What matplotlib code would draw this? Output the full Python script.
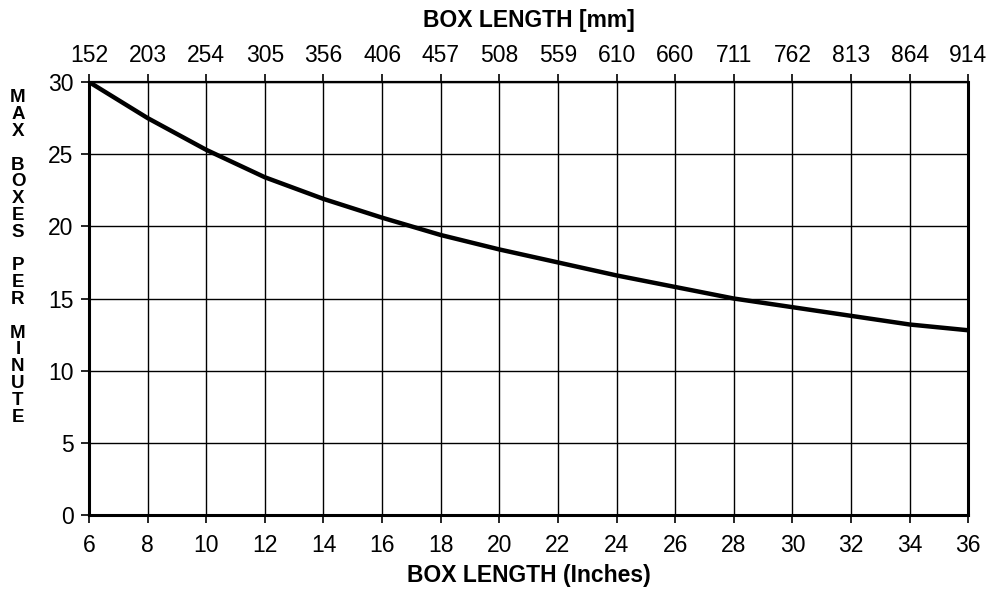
import numpy as np
import matplotlib
matplotlib.use("Agg")
import matplotlib.pyplot as plt

plt.rcParams['font.family'] = ['Liberation Sans', 'DejaVu Sans']

# Box length (inches) and max boxes per minute
length_in = [6, 8, 10, 12, 14, 16, 18, 20, 22, 24, 26, 28, 30, 32, 34, 36]
boxes_per_min = [30.0, 27.5, 25.3, 23.4, 21.9, 20.6, 19.4, 18.4, 17.5,
                 16.6, 15.8, 15.0, 14.4, 13.8, 13.2, 12.8]

# Axis ticks
x_ticks = list(range(6, 37, 2))
y_ticks = [0, 5, 10, 15, 20, 25, 30]
mm_labels = ["152", "203", "254", "305", "356", "406", "457", "508",
             "559", "610", "660", "711", "762", "813", "864", "914"]

fig = plt.figure(figsize=(9.89, 5.92), dpi=100)
ax = fig.add_axes([0.090, 0.130, 0.889, 0.7315])

ax.plot(length_in, boxes_per_min, color="k", linewidth=3.2,
        solid_capstyle="butt", zorder=3)

ax.set_xlim(6, 36)
ax.set_ylim(0, 30)
ax.set_xticks(x_ticks)
ax.set_yticks(y_ticks)
ax.grid(True, color="k", linewidth=1.0)
ax.tick_params(axis='both', labelsize=16.5, length=6, width=1.2,
               direction='out', color='k')
ax.tick_params(axis='x', pad=8)
ax.tick_params(axis='y', pad=5)
for side in ["left", "right", "bottom"]:
    ax.spines[side].set_linewidth(2.2)
ax.spines["top"].set_linewidth(1.6)

ax.set_xlabel("BOX LENGTH (Inches)", fontsize=16.5, fontweight="bold",
              labelpad=5)

# Top axis in millimetres
ax_top = ax.twiny()
ax_top.set_xlim(ax.get_xlim())
ax_top.set_xticks(x_ticks)
ax_top.set_xticklabels(mm_labels)
ax_top.tick_params(axis='x', labelsize=16.5, length=6, width=1.2, pad=5)
ax_top.set_xlabel("BOX LENGTH [mm]", fontsize=16.5, fontweight="bold",
                  labelpad=12)
for s in ax_top.spines.values():
    s.set_visible(False)

# Stacked vertical y label, one letter per row
ylabel_words = ["MAX", "BOXES", "PER", "MINUTE"]
row = 0
for word in ylabel_words:
    for letter in word:
        fig.text(18 / 989, 1 - (98 + row * 16.8) / 592, letter,
                 ha="center", va="center", fontsize=13.5,
                 fontweight="bold")
        row += 1
    row += 1

plt.savefig("out.png", dpi=100)
